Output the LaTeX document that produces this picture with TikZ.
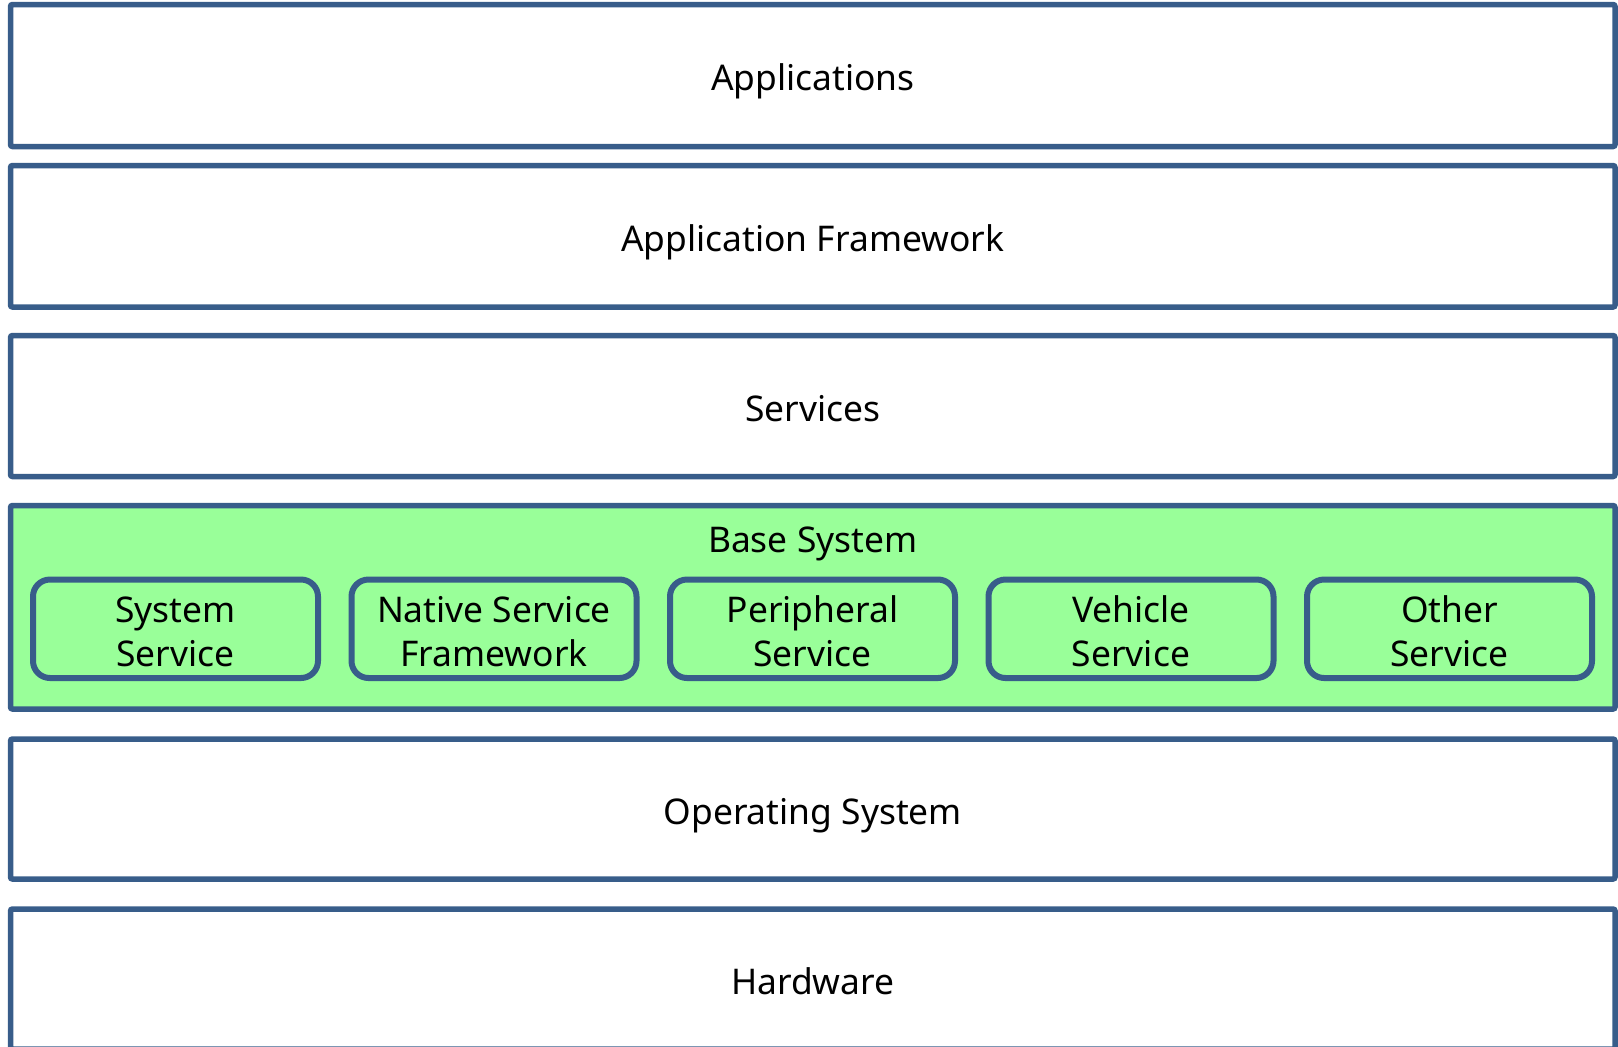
\documentclass[tikz,border=0pt]{standalone}
\usepackage{fontspec}
\setmainfont{Noto Sans}
\usetikzlibrary{positioning}
\definecolor{layerblue}{RGB}{56,93,138}
\definecolor{basegreen}{RGB}{153,255,153}

\begin{document}
\begin{tikzpicture}[x=0.5pt, y=-0.5pt]
			\useasboundingbox (0,0) rectangle (1618,1046);
			\begin{scope}[every node/.style={rectangle,draw=layerblue,line width=2.75pt,rounded corners=1pt,minimum width=802.25pt,inner sep=0pt,text height=15pt,text depth=0pt,font=\fontsize{17.7}{22}\selectfont}]
				\node[minimum height=71pt] (app) at (812.75,75.5) {Applications};
				\node[minimum height=70.75pt] (fw) at (812.75,236.25) {Application Framework};
				\node[minimum height=70.5pt] (srv) at (812.75,406) {Services};
				\node[minimum height=101.75pt,fill=basegreen] (base) at (812.75,607.25) {};
				\node[minimum height=70pt] (os) at (812.75,809) {Operating System};
				\node[minimum height=70pt] (hw) at (812.75,979) {Hardware};
			\end{scope}
			\node[font=\fontsize{17.7}{22}\selectfont,inner sep=0pt] (basetitle) at (812.75,544) {Base System};
			\begin{scope}[every node/.style={rectangle,draw=layerblue,line width=3pt,rounded corners=8.5pt,fill=basegreen,minimum width=142.5pt,minimum height=49.25pt,inner sep=0pt,text height=0pt,text depth=6.6pt,font=\fontsize{17.7}{22}\selectfont}]
				\node (sys) at (175.5,628.75) {\begin{tabular}[t]{@{}c@{}}System\\Service\end{tabular}};
				\node (nsf) at (494,628.75) {\begin{tabular}[t]{@{}c@{}}Native Service\\Framework\end{tabular}};
				\node (per) at (812.5,628.75) {\begin{tabular}[t]{@{}c@{}}Peripheral\\Service\end{tabular}};
				\node (veh) at (1131,628.75) {\begin{tabular}[t]{@{}c@{}}Vehicle\\Service\end{tabular}};
				\node (oth) at (1449.5,628.75) {\begin{tabular}[t]{@{}c@{}}Other\\Service\end{tabular}};
			\end{scope}
		\end{tikzpicture}
\end{document}
